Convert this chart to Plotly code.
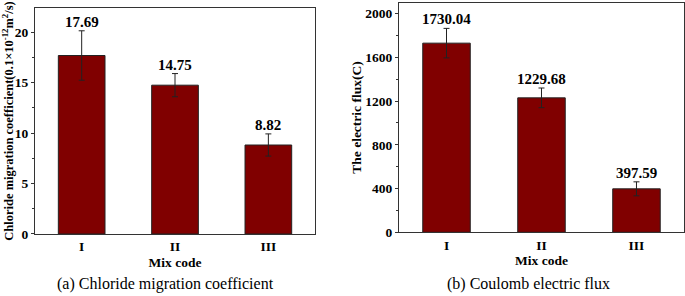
import plotly.graph_objects as go

mix_codes = ["I", "II", "III"]
chloride_coef = [17.69, 14.75, 8.82]
chloride_err = [2.45, 1.15, 1.1]
electric_flux = [1730.04, 1229.68, 397.59]
flux_err = [135, 90, 64]

left_tickvals = [0, 5, 10, 15, 20]
right_tickvals = [0, 400, 800, 1200, 1600, 2000]

BAR = "#800000"
FONT = "Liberation Serif"

fig = go.Figure()

fig.add_trace(go.Bar(
    x=mix_codes, y=chloride_coef, width=0.5,
    marker=dict(color=BAR, line=dict(color="#222222", width=1)),
    error_y=dict(type="data", array=chloride_err, color="#222222", thickness=1, width=3),
    xaxis="x", yaxis="y", showlegend=False, hoverinfo="skip",
))
fig.add_trace(go.Bar(
    x=mix_codes, y=electric_flux, width=0.5,
    marker=dict(color=BAR, line=dict(color="#222222", width=1)),
    error_y=dict(type="data", array=flux_err, color="#222222", thickness=1, width=3),
    xaxis="x2", yaxis="y2", showlegend=False, hoverinfo="skip",
))

label_font = dict(family=FONT, size=15, color="black", weight="bold")
annotations = []
for c, v, e in zip(mix_codes, chloride_coef, chloride_err):
    annotations.append(dict(text=f"{v:.2f}", x=c, y=v + e, xref="x", yref="y",
                            showarrow=False, xanchor="center", yanchor="bottom",
                            yshift=-1, font=label_font))
for c, v, e in zip(mix_codes, electric_flux, flux_err):
    annotations.append(dict(text=f"{v:.2f}", x=c, y=v + e, xref="x2", yref="y2",
                            showarrow=False, xanchor="center", yanchor="bottom",
                            yshift=-1, font=label_font))
annotations += [
    dict(text="(a) Chloride migration coefficient", x=165 / 685, y=(296 - 284) / 296,
         xref="paper", yref="paper", showarrow=False, xanchor="center", yanchor="middle",
         font=dict(family=FONT, size=16, color="black")),
    dict(text="(b) Coulomb electric flux", x=528 / 685, y=(296 - 284) / 296,
         xref="paper", yref="paper", showarrow=False, xanchor="center", yanchor="middle",
         font=dict(family=FONT, size=16, color="black")),
]

axis_common = dict(
    showline=True, mirror=True, linecolor="#333333", linewidth=1,
    showgrid=False, zeroline=False, automargin=False,
    tickfont=dict(family=FONT, size=13.5, color="black", weight="bold"),
)
title_font = dict(family=FONT, size=13.5, color="black", weight="bold")

fig.update_layout(
    width=685, height=296,
    margin=dict(l=0, r=0, t=0, b=0),
    paper_bgcolor="white", plot_bgcolor="white",
    bargap=0.5,
    xaxis=dict(domain=[0.0511, 0.4599], range=[-0.5, 2.5], ticks="",
               title=dict(text="Mix code", font=title_font, standoff=4),
               **axis_common),
    yaxis=dict(domain=[0.2095, 0.973], range=[0, 22.4], tickvals=left_tickvals,
               ticks="outside", ticklen=3, tickcolor="#333333",
               minor=dict(dtick=2.5, ticks="outside", ticklen=2, tickcolor="#333333"),
               title=dict(text="Chloride migration coefficient(0.1×10<sup>-12</sup>m<sup>2</sup>/s)",
                          font=dict(family=FONT, size=12.5, color="black", weight="bold"), standoff=4),
               **axis_common),
    xaxis2=dict(domain=[0.5825, 0.9985], range=[-0.5, 2.5], ticks="", anchor="y2",
                title=dict(text="Mix code", font=title_font, standoff=4),
                **axis_common),
    yaxis2=dict(domain=[0.2152, 0.9909], range=[0, 2100], tickvals=right_tickvals, anchor="x2",
                ticks="outside", ticklen=3, tickcolor="#333333",
                minor=dict(dtick=200, ticks="outside", ticklen=2, tickcolor="#333333"),
                title=dict(text="The electric flux(C)", font=title_font, standoff=0),
                **axis_common),
    annotations=annotations,
)

fig.write_html("out.html", config={"displayModeBar": False},
               post_script="document.body.style.margin='0';document.body.style.overflow='hidden';")
